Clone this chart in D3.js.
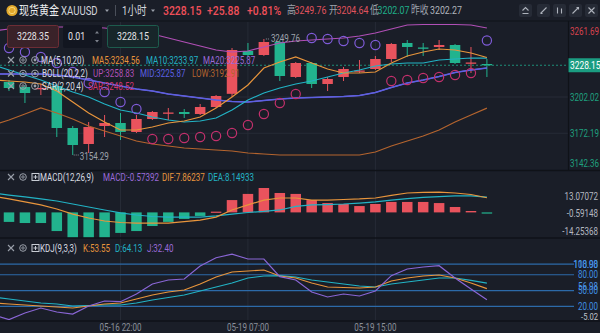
<!DOCTYPE html>
<html><head><meta charset="utf-8">
<script src="https://cdn.jsdelivr.net/npm/d3@7/dist/d3.min.js"></script>
<style>html,body{margin:0;padding:0;background:#1a1e28;}svg{display:block;}</style>
</head><body>
<svg id="chart" width="600" height="333"></svg>
<script>
// ---------------- DATA ----------------
const times = ["05-16 14:00","05-16 15:00","05-16 16:00","05-16 17:00","05-16 18:00","05-16 19:00","05-16 20:00","05-16 21:00","05-16 22:00","05-16 23:00","05-17 00:00","05-17 01:00","05-17 02:00","05-17 03:00","05-17 04:00","05-19 06:00","05-19 07:00","05-19 08:00","05-19 09:00","05-19 10:00","05-19 11:00","05-19 12:00","05-19 13:00","05-19 14:00","05-19 15:00","05-19 16:00","05-19 17:00","05-19 18:00","05-19 19:00","05-19 20:00","05-19 21:00","05-19 22:00"];
const open  = [3216.0,3214.37,3210.25,3208.61,3211.08,3176.51,3163.34,3178.16,3180.62,3173.22,3183.92,3188.45,3189.68,3188.03,3193.79,3204.64,3239.88,3236.59,3247.29,3218.49,3230.01,3212.72,3218.49,3223.01,3225.07,3233.30,3246.47,3242.76,3243.18,3244.82,3229.60,3229.18];
const high  = [3219.0,3216.02,3211.90,3212.72,3212.72,3178.16,3181.45,3187.21,3188.86,3187.21,3190.50,3192.97,3192.15,3196.26,3203.67,3242.35,3246.47,3249.76,3248.94,3230.83,3230.83,3218.49,3226.72,3232.48,3235.77,3246.47,3248.94,3246.47,3248.94,3245.65,3243.18,3233.30];
const low   = [3212.0,3206.96,3197.08,3203.67,3169.10,3154.29,3155.93,3169.10,3166.63,3172.39,3183.09,3183.09,3184.74,3187.21,3192.97,3202.07,3234.95,3235.77,3215.19,3217.66,3209.43,3206.96,3215.19,3221.78,3224.25,3230.83,3234.95,3235.77,3240.71,3229.18,3221.78,3218.49];
const close = [3214.5,3209.43,3205.32,3209.43,3176.51,3162.52,3177.33,3180.62,3173.22,3183.92,3189.68,3189.27,3188.03,3193.79,3202.85,3240.71,3236.59,3247.29,3219.31,3230.01,3212.72,3216.84,3225.07,3223.83,3233.30,3245.65,3243.18,3241.94,3244.82,3230.01,3230.42,3228.15];
const ma5   = [3216.02,3215.19,3214.37,3212.72,3206.96,3197.91,3188.86,3181.45,3174.86,3174.86,3177.33,3180.62,3182.27,3185.56,3192.97,3202.02,3211.90,3225.89,3230.83,3234.95,3230.01,3225.07,3221.78,3221.78,3222.60,3230.01,3235.77,3239.06,3241.53,3240.71,3238.24,3234.56];
const ma10  = [3228.36,3224.25,3220.13,3216.02,3211.08,3206.14,3202.02,3196.26,3191.32,3188.86,3185.56,3183.09,3181.45,3182.27,3184.74,3191.32,3199.55,3205.32,3209.43,3212.72,3215.19,3218.49,3221.78,3224.25,3227.54,3229.18,3230.01,3230.01,3232.48,3233.30,3234.12,3233.97];
const ma20  = [3220.95,3220.95,3220.95,3220.95,3220.13,3218.49,3216.02,3213.55,3211.08,3208.61,3206.96,3204.49,3202.85,3201.20,3199.55,3198.32,3197.91,3199.14,3200.38,3201.20,3201.61,3202.02,3202.43,3203.26,3205.73,3209.84,3213.55,3216.02,3218.90,3222.19,3224.25,3225.87];
const bollUp  = [3256.34,3257.99,3258.81,3259.64,3259.64,3259.64,3259.64,3258.81,3257.17,3255.52,3253.87,3250.58,3247.29,3244.00,3240.71,3239.06,3239.88,3243.18,3246.47,3248.11,3248.94,3249.76,3250.58,3252.23,3254.70,3257.99,3261.28,3261.69,3261.69,3261.69,3261.28,3258.83];
const bollMid = [3220.95,3220.95,3220.95,3220.95,3220.13,3218.49,3216.02,3213.55,3211.08,3208.61,3206.96,3204.49,3202.85,3201.20,3199.55,3198.32,3197.91,3199.14,3200.38,3201.20,3201.61,3202.02,3202.43,3203.26,3205.73,3209.84,3213.55,3216.02,3218.90,3222.19,3224.25,3225.87];
const bollLow = [3178.98,3183.09,3188.03,3192.97,3188.86,3183.92,3178.16,3174.04,3169.92,3165.81,3163.34,3161.69,3160.05,3159.23,3158.40,3157.58,3155.93,3155.11,3154.29,3154.29,3154.29,3154.29,3154.29,3154.29,3156.76,3161.69,3165.81,3169.92,3174.86,3181.45,3187.21,3192.91];
const sar   = [3244.82,3242.35,3239.06,3234.95,3230.01,3222.60,3213.55,3206.14,3197.91,3192.15,3167.46,3167.46,3168.28,3169.10,3169.92,3172.39,3178.98,3188.03,3197.08,3204.49,3250.58,3249.76,3248.11,3246.47,3244.82,3215.19,3216.02,3217.66,3218.49,3220.13,3221.78,3248.52];
const macdHist = [-4.6,-5.1,-5.7,-5.7,-10.0,-13.9,-14.25368,-14.0,-11.0,-10.0,-7.3,-5.1,-3.5,-1.9,0.4,6.6,9.9,13.07072,10.4,9.9,6.6,5.0,4.5,3.4,4.5,5.6,5.6,5.6,5.0,2.9,0.75,-0.57392];
const dif   = [8.8,7.2,5.6,4.0,1.8,-0.9,-3.0,-4.6,-5.4,-5.7,-5.7,-5.7,-4.9,-4.1,-2.5,1.3,4.0,6.6,7.7,7.7,6.6,6.6,6.9,7.2,7.7,9.1,10.4,10.7,10.9,10.4,9.6,7.86237];
const dea   = [10.4,9.3,8.3,7.2,6.1,4.5,2.9,1.3,-0.3,-1.4,-2.2,-2.5,-2.5,-2.5,-1.9,-0.9,-0.05,0.5,1.3,3.2,4.0,4.2,4.5,5.0,5.6,6.6,7.4,8.0,8.5,8.8,8.8,8.14933];
const kdjK  = [26.3,24.4,22.5,20.6,18.7,16.8,20.6,24.4,26.3,33.9,41.5,47.2,51.0,62.4,75.7,85.2,87.1,89.0,77.6,73.8,64.3,56.7,55.7,54.8,56.7,68.1,73.8,77.6,79.5,73.8,64.3,53.55];
const kdjD  = [37.7,33.9,30.1,26.3,24.4,20.6,21.6,22.5,22.5,26.3,32.0,36.8,41.5,49.1,56.7,64.3,73.8,77.6,78.2,75.7,70.0,66.2,62.4,58.6,56.7,62.4,66.2,70.0,73.8,73.8,69.1,64.13];
const kdjJ  = [3.5,-5.02,7.3,16.8,9.2,5.4,20.6,30.1,28.8,43.4,62.4,70.0,71.9,96.6,112.3,118.98,109.9,109.9,76.3,70.0,47.2,37.7,43.4,39.6,49.1,78.2,90.9,94.7,97.1,73.8,52.8,32.40];

const xTickLabels = ["05-16 22:00","05-19 07:00","05-19 15:00"];
const priceTicks = [3261.69,3202.02,3172.19,3142.36];
const priceGrid = [3202.02,3172.19];
const prevClose = 3202.27;
const macdTicks = [13.07072,-0.59148,-14.25368];
const kdjLevels = [100,80,50,20];
const kdjTicks = [118.98,56.98,-5.02];

// ---------------- STYLE ----------------
const FONT = "Roboto, 'Noto Sans', 'Noto Sans CJK SC', sans-serif";
const BG = "#1a1e28", RED = "#e9535d", GREEN = "#22b38e", GRID = "#262b36", SEP = "#0f1218";
const C_MA5 = "#e8953c", C_MA10 = "#22b3c5", C_MA20 = "#9a6ad8", C_UP = "#b14fb6", C_MID = "#5c60e2", C_LOW = "#b4642e";
const C_SAR_HI = "#7f5bd8", C_SAR_LO = "#c4306c";
const C_TXT = "#d8dbe1", C_GREY = "#8b909a";
const SQ = 0.8; // narrow typeface of the reference

const svg = d3.select('#chart').attr('font-family', FONT);
svg.append('rect').attr('width',600).attr('height',333).attr('fill',BG);
const defs = svg.append('defs');
function clip(id,x,y,w,h){ defs.append('clipPath').attr('id',id).append('rect').attr('x',x).attr('y',y).attr('width',w).attr('height',h); }
clip('cMain',0,21.5,568,148.5);
clip('cMacd',0,171.2,600,66.6);
clip('cKdj',0,238.8,600,82);

function T(parent,x,y,str,size,color,anchor,weight){
  return parent.append('text').attr('x',0).attr('y',0).attr('dy','0.35em')
    .attr('transform',`translate(${x},${y}) scale(${SQ},1)`)
    .attr('font-size',size).attr('fill',color).attr('text-anchor',anchor||'start')
    .attr('font-weight',weight||400).text(str);
}

// scales
const x = d3.scalePoint().domain(times).range([-6.93, 486.9]);
const bodyW = x.step()*0.66;
const yP = d3.scaleLinear().domain([3142.36,3261.69]).range([169.5,24.5]);
const yM = d3.scaleLinear().domain([-14.25368,13.07072]).range([239,188]);
const yK = d3.scaleLinear().domain([-5.02,118.98]).range([319.5,254.2]);
const xi = (d,i)=>x(times[i]);

// ---------------- GRID ----------------
const gGrid = svg.append('g');
xTickLabels.forEach(t=>gGrid.append('line').attr('x1',x(t)).attr('x2',x(t)).attr('y1',22).attr('y2',321).attr('stroke',GRID));
priceGrid.forEach(v=>gGrid.append('line').attr('x1',0).attr('x2',568).attr('y1',yP(v)).attr('y2',yP(v)).attr('stroke',GRID));

// ---------------- MAIN ----------------
const gMain = svg.append('g').attr('clip-path','url(#cMain)');
const last = close[close.length-1];
gMain.append('line').attr('x1',0).attr('x2',568).attr('y1',yP(last)).attr('y2',yP(last))
  .attr('stroke','#1fa386').attr('stroke-dasharray','2,2').attr('opacity',0.85);

const cg = gMain.selectAll('g.c').data(times).join('g');
cg.append('line').attr('x1',d=>x(d)).attr('x2',d=>x(d))
  .attr('y1',(d,i)=>yP(high[i])).attr('y2',(d,i)=>yP(low[i]))
  .attr('stroke',(d,i)=>close[i]>=open[i]?RED:GREEN).attr('stroke-width',1);
cg.append('rect').attr('x',d=>x(d)-bodyW/2)
  .attr('y',(d,i)=>yP(Math.max(open[i],close[i])))
  .attr('width',bodyW)
  .attr('height',(d,i)=>Math.max(1.3,yP(Math.min(open[i],close[i]))-yP(Math.max(open[i],close[i]))))
  .attr('fill',(d,i)=>close[i]>=open[i]?RED:GREEN);

const lineP = d3.line().x(xi).y(d=>yP(d));
[[bollUp,C_UP,1.2],[bollLow,C_LOW,1.2],[ma20,C_MA20,1.2],[bollMid,C_MID,1.4],[ma10,C_MA10,1.2],[ma5,C_MA5,1.2]].forEach(([arr,c,w])=>{
  gMain.append('path').attr('d',lineP(arr)).attr('fill','none').attr('stroke',c).attr('stroke-width',w);
});
gMain.selectAll('circle.sar').data(sar).join('circle')
  .attr('cx',xi).attr('cy',d=>yP(d)).attr('r',4.6).attr('fill','none')
  .attr('stroke',(d,i)=>d>close[i]?C_SAR_HI:C_SAR_LO).attr('stroke-width',1.2);

// high / low annotations
const iMax = d3.maxIndex(high), iMin = d3.minIndex(low);
const annG = svg.append('g');
annG.append('line').attr('x1',x(times[iMax])+2).attr('x2',x(times[iMax])+6).attr('y1',yP(high[iMax])).attr('y2',yP(high[iMax])).attr('stroke','#8b909a').attr('stroke-dasharray','1,1');
T(annG,x(times[iMax])+7,yP(high[iMax]),high[iMax].toFixed(2),10,'#9ea3ac');
annG.append('line').attr('x1',x(times[iMin])+1).attr('x2',x(times[iMin])+6).attr('y1',yP(low[iMin])).attr('y2',yP(low[iMin])).attr('stroke','#8b909a').attr('stroke-dasharray','1,1');
T(annG,x(times[iMin])+7,yP(low[iMin])+1.5,low[iMin].toFixed(2),10,'#9ea3ac');

// ---------------- LEGENDS ----------------
const gL = svg.append('g');
function iconX(cx,cy){ gL.append('path').attr('d',`M${cx-3},${cy-3}L${cx+3},${cy+3}M${cx+3},${cy-3}L${cx-3},${cy+3}`).attr('stroke','#9aa0aa').attr('stroke-width',1.1); }
function iconGear(cx,cy){ gL.append('circle').attr('cx',cx).attr('cy',cy).attr('r',3.3).attr('fill','none').attr('stroke','#9aa0aa').attr('stroke-width',1); gL.append('circle').attr('cx',cx).attr('cy',cy).attr('r',1.2).attr('fill','none').attr('stroke','#9aa0aa').attr('stroke-width',0.9); }
function iconEye(cx,cy){ gL.append('circle').attr('cx',cx).attr('cy',cy).attr('r',3.4).attr('fill','none').attr('stroke','#9aa0aa').attr('stroke-width',1); gL.append('circle').attr('cx',cx).attr('cy',cy).attr('r',1.4).attr('fill','#9aa0aa'); }
function iconBox(cx,cy){ gL.append('rect').attr('x',cx-3.5).attr('y',cy-3.5).attr('width',7).attr('height',7).attr('fill','none').attr('stroke','#c8ccd3').attr('stroke-width',1); gL.append('path').attr('d',`M${cx-2},${cy}L${cx+2},${cy}M${cx},${cy-2}L${cx},${cy+2}`).attr('stroke','#c8ccd3').attr('stroke-width',1); }
function legendRow(y,third,items){
  iconX(11,y); iconGear(23,y); if(third==='eye') iconEye(35,y); else iconBox(35.5,y);
  items.forEach(([s,c,xx])=>T(gL,xx,y,s,10,c));
}
legendRow(60,'eye',[["MA(5,10,20)",C_TXT,41],["MA5:3234.56",C_MA5,92],["MA10:3233.97",C_MA10,146],["MA20:3225.87",C_MA20,203]]);
legendRow(73.5,'eye',[["BOLL(20,2,2)",C_TXT,42],["UP:3258.83",C_UP,93],["MID:3225.87",C_MID,140],["LOW:3192.91",C_LOW,192]]);
legendRow(86,'eye',[["SAR(2,20,4)",C_TXT,42],["SAR:3248.52","#d2336e",88]]);
legendRow(177,'box',[["MACD(12,26,9)",C_TXT,40],["MACD:-0.57392",C_MA20,103],["DIF:7.86237",C_MA5,162],["DEA:8.14933",C_MA10,208]]);
legendRow(248,'box',[["KDJ(9,3,3)",C_TXT,40],["K:53.55",C_MA5,83],["D:64.13",C_MA10,115],["J:32.40",C_MA20,147]]);

// input boxes
gL.append('rect').attr('x',7.5).attr('y',25.5).attr('width',51).attr('height',22).attr('rx',2).attr('fill','#3a2229').attr('stroke','#6d2d35');
T(gL,33,36.5,"3228.35",11,'#e4e4e8','middle');
gL.append('rect').attr('x',63).attr('y',25).attr('width',39).attr('height',23).attr('rx',2).attr('fill','#121620');
T(gL,68,36.5,"0.01",11,'#e4e4e8');
gL.append('path').attr('d','M95,33.5L97,31L99,33.5Z M95,40L97,42.5L99,40Z').attr('fill','#7d828c');
gL.append('rect').attr('x',107.5).attr('y',25.5).attr('width',51).attr('height',22).attr('rx',2).attr('fill','#17262a').attr('stroke','#1d5c4d');
T(gL,133,36.5,"3228.15",11,'#e4e4e8','middle');

// ---------------- MACD ----------------
const gM = svg.append('g').attr('clip-path','url(#cMacd)');
gM.selectAll('rect').data(macdHist).join('rect')
  .attr('x',(d,i)=>x(times[i])-bodyW/2).attr('width',bodyW)
  .attr('y',d=>Math.min(yM(0),yM(d))).attr('height',d=>Math.max(1.2,Math.abs(yM(d)-yM(0))))
  .attr('fill',d=>d>=0?RED:GREEN);
const lineM = d3.line().x(xi).y(d=>yM(d));
gM.append('path').attr('d',lineM(dea)).attr('fill','none').attr('stroke',C_MA10).attr('stroke-width',1.2);
gM.append('path').attr('d',lineM(dif)).attr('fill','none').attr('stroke',C_MA5).attr('stroke-width',1.2);

// ---------------- KDJ ----------------
const gK = svg.append('g').attr('clip-path','url(#cKdj)');
kdjLevels.forEach(v=>gK.append('line').attr('x1',0).attr('x2',574).attr('y1',yK(v)).attr('y2',yK(v)).attr('stroke','#2c6aa8').attr('stroke-width',1.2));
const lineK = d3.line().x(xi).y(d=>yK(d));
[[kdjD,C_MA10],[kdjK,C_MA5],[kdjJ,'#8a66d6']].forEach(([a,c])=>gK.append('path').attr('d',lineK(a)).attr('fill','none').attr('stroke',c).attr('stroke-width',1.2));

// ---------------- AXES ----------------
const gA = svg.append('g');
gA.append('line').attr('x1',568.5).attr('x2',568.5).attr('y1',21).attr('y2',170.5).attr('stroke',SEP).attr('stroke-width',1.2);
priceTicks.forEach(v=>{
  const yy = Math.max(31,Math.min(163,yP(v)));
  T(gA,570,yy,v.toFixed(2),10,v>prevClose?'#d8434f':'#1fa07f');
});
gA.append('rect').attr('x',568.5).attr('y',yP(last)-7).attr('width',31.5).attr('height',14).attr('fill','#1b9d82');
T(gA,570,yP(last),last.toFixed(2),10.5,'#ffffff');
macdTicks.forEach(v=>{
  const yy = Math.max(196,Math.min(231.5,yM(v)));
  T(gA,598,yy,v.toFixed(5),10,'#b4b8c0','end');
});
kdjLevels.forEach(v=>T(gA,598,yK(v),v.toFixed(2),10,'#3f8fe2','end'));
kdjTicks.forEach((v,i)=>{
  const yy = Math.max(264,Math.min(317,yK(v)));
  T(gA,598,yy,v.toFixed(2),i===2?9.5:10,i===2?'#c0c4cc':'#4a95e6','end');
});
xTickLabels.forEach(t=>T(gA,x(t),327,t,10,C_GREY,'middle'));

// separators
[170.5,238,321].forEach(yy=>gA.append('line').attr('x1',0).attr('x2',600).attr('y1',yy).attr('y2',yy).attr('stroke',SEP).attr('stroke-width',1.5));
gA.append('line').attr('x1',0).attr('x2',600).attr('y1',21).attr('y2',21).attr('stroke',SEP).attr('stroke-width',1.2);

// ---------------- TOP BAR ----------------
const gT = svg.append('g');
gT.append('circle').attr('cx',12).attr('cy',10.5).attr('r',5.6).attr('fill','#e2a92c');
gT.append('circle').attr('cx',12).attr('cy',10.5).attr('r',3.2).attr('fill','none').attr('stroke','#f7d77a').attr('stroke-width',1);
T(gT,19,10.5,"现货黄金",12.5,'#eceef2');
T(gT,61,10.5,"XAUUSD",12,'#d2d5dc');
gT.append('path').attr('d','M105,9.5L109,9.5L107,12Z').attr('fill','#9aa0aa');
gT.append('line').attr('x1',115.5).attr('x2',115.5).attr('y1',5).attr('y2',16).attr('stroke','#4a4f5a');
T(gT,122,10.5,"1小时",12,'#d2d5dc');
gT.append('path').attr('d','M151,9.5L155,9.5L153,12Z').attr('fill','#9aa0aa');
T(gT,163,10.5,"3228.15",13,'#f0505a','start',500);
T(gT,207,10.5,"+25.88",13,'#f0505a','start',500);
T(gT,247,10.5,"+0.81%",13,'#f0505a','start',500);
[["高",287,'#9ea3ac'],["3249.76",294.5,'#e0535d'],["开",329,'#9ea3ac'],["3204.64",336.5,'#e0535d'],["低",370,'#9ea3ac'],["3202.07",377.5,'#1fae8a'],["昨收",411,'#9ea3ac'],["3202.27",430,'#b0b4bc']]
  .forEach(([s,xx,c])=>T(gT,xx,10.5,s,11,c));
[519,537,553,569,585].forEach((bx,i)=>{
  gT.append('rect').attr('x',bx).attr('y',4).attr('width',13).attr('height',13).attr('rx',2).attr('fill','#262b36');
  const cx=bx+6.5, cy=10.5;
  const p = [
    `M${cx-3},${cy+3}L${cx+3},${cy+3}M${cx-3},${cy}L${cx},${cy-3}L${cx+3},${cy}`,
    `M${cx-3},${cy+3}L${cx+3},${cy-3}M${cx-3},${cy+3}L${cx-1},${cy+3}`,
    `M${cx-2},${cy-3}L${cx-2},${cy+3}M${cx+2},${cy-2}L${cx+2},${cy+3}`,
    `M${cx-3},${cy+3}L${cx+3},${cy-3}M${cx+1},${cy-3}L${cx+3},${cy-3}L${cx+3},${cy-1}`,
    `M${cx-3},${cy-3}L${cx+3},${cy+3}M${cx+3},${cy-3}L${cx-3},${cy+3}`][i];
  gT.append('path').attr('d',p).attr('fill','none').attr('stroke','#aeb3bc').attr('stroke-width',1.1);
});
</script>
</body></html>
